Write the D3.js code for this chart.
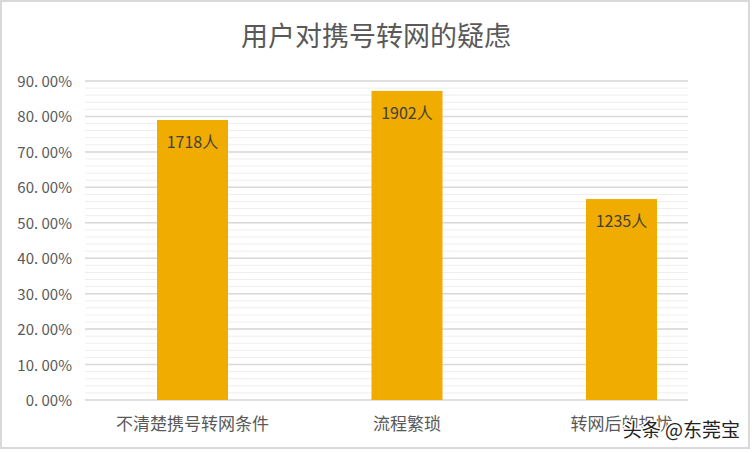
<!DOCTYPE html>
<html><head><meta charset="utf-8">
<script src="https://cdn.jsdelivr.net/npm/d3@7"></script>
<style>body{margin:0;background:#fff}</style>
</head><body><div id="wrapper"></div>
<script>
const categories = ["不清楚携号转网条件", "流程繁琐", "转网后的担忧"]
const values = [0.79, 0.872, 0.567]
const labels = ["1718人", "1902人", "1235人"]
const yTicks = [0, 0.1, 0.2, 0.3, 0.4, 0.5, 0.6, 0.7, 0.8, 0.9]

const font = "'Noto Sans CJK SC', sans-serif"
const svg = d3.select("#wrapper").append("svg").attr("width", 753).attr("height", 453)

svg.append("rect").attr("x", 1).attr("y", 1).attr("width", 748).attr("height", 447)
    .attr("fill", "#fff").attr("stroke", "#d9d9d9").attr("stroke-width", 2)

svg.append("text").attr("x", 376).attr("y", 46).attr("text-anchor", "middle")
    .attr("font-family", font).attr("font-size", 27).attr("fill", "#595959")
    .text("用户对携号转网的疑虑")

// band range spans first bar's left edge to last bar's right edge
const x = d3.scaleBand().domain(categories).range([157, 657]).paddingInner(0.669).paddingOuter(0)
const y = d3.scaleLinear().domain([0, 0.9]).range([400, 81])

const minor = d3.range(0, 0.9001, 0.02)
svg.selectAll(".minor").data(minor).join("line")
    .attr("x1", 85).attr("x2", 688).attr("y1", d => y(d)).attr("y2", d => y(d))
    .attr("stroke", "#eeeeee").attr("stroke-width", 1)
svg.selectAll(".major").data(yTicks).join("line")
    .attr("x1", 85).attr("x2", 688).attr("y1", d => y(d)).attr("y2", d => y(d))
    .attr("stroke", "#d9d9d9").attr("stroke-width", 1.5)

svg.selectAll(".ytick").data(yTicks).join("text")
    .attr("x", 72).attr("y", d => y(d) + 6).attr("text-anchor", "end")
    .attr("font-family", font).attr("font-size", 15).attr("fill", "#595959")
    .text(d => d3.format(".2f")(d * 100).replace(".", ". ") + "%")

svg.selectAll(".bar").data(values).join("rect")
    .attr("x", (d, i) => x(categories[i])).attr("width", x.bandwidth())
    .attr("y", d => y(d)).attr("height", d => 400 - y(d))
    .attr("fill", "#f0ac00")

svg.selectAll(".lbl").data(values).join("text")
    .attr("x", (d, i) => x(categories[i]) + x.bandwidth() / 2).attr("y", d => y(d) + 28)
    .attr("text-anchor", "middle").attr("font-family", font).attr("font-size", 16).attr("fill", "#404040")
    .text((d, i) => labels[i])

svg.selectAll(".xlab").data(categories).join("text")
    .attr("x", d => x(d) + x.bandwidth() / 2).attr("y", 430)
    .attr("text-anchor", "middle").attr("font-family", font).attr("font-size", 17).attr("fill", "#595959")
    .text(d => d)

svg.append("text").attr("x", 740).attr("y", 437).attr("text-anchor", "end")
    .attr("font-family", font).attr("font-size", 19).attr("fill", "#222")
    .attr("stroke", "#fff").attr("stroke-width", 3).attr("paint-order", "stroke")
    .text("头条 @东莞宝")
</script></body></html>
